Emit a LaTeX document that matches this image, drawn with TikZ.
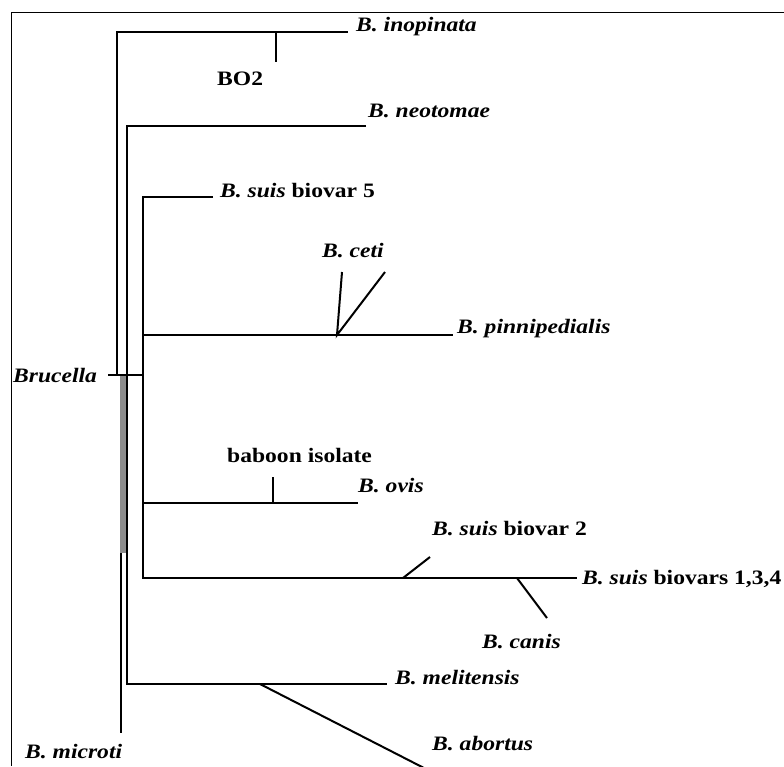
\documentclass[tikz,border=0pt]{standalone}
\usepackage{fontspec}
\setmainfont[FakeStretch=1.15]{Liberation Serif}
\usepackage{tikz}
\usetikzlibrary{calc}
\usetikzlibrary{positioning}
\definecolor{bargray}{RGB}{140, 140, 140}
\tikzset{
    branch/.style={line width=2pt},
    frameline/.style={line width=1.6pt},
    taxon/.style={anchor=base west, inner sep=0pt, font=\fontsize{20.5}{24}\selectfont\bfseries}
}

\begin{document}
\begin{tikzpicture}[x=1pt, y=-1pt]
    \useasboundingbox (0,0) rectangle (784,766);
    \draw[frameline] (784,12.5) -- (11.5,12.5) -- (11.5,766);
    % junctions and tips
    \coordinate (rootL)   at (108,375);   \coordinate (rootA)   at (117,375);   \coordinate (rootC)   at (143,375);
    \coordinate (inoTop)  at (117, 32);   \coordinate (inoEnd)  at (348, 32);
    \coordinate (bo2Top)  at (276, 32);   \coordinate (bo2End)  at (276, 62);
    \coordinate (neoTop)  at (127,126);   \coordinate (neoEnd)  at (366,126);   \coordinate (neoBot)  at (127,684);
    \coordinate (abStart) at (260,684);   \coordinate (abEnd)   at (424,768);   \coordinate (melEnd)  at (387,684);
    \coordinate (cTop)    at (143,197);   \coordinate (s5End)   at (213,197);   \coordinate (cBot)    at (143,578);
    \coordinate (pinJ)    at (143,335);   \coordinate (cetiJ)   at (337,335);   \coordinate (pinEnd)  at (453,335);
    \coordinate (cetiA)   at (342,272);   \coordinate (cetiB)   at (385,272);
    \coordinate (ovJ)     at (143,503);   \coordinate (babJ)    at (273,503);   \coordinate (babTop)  at (273,477);
    \coordinate (ovEnd)   at (358,503);
    \coordinate (s2J)     at (403,578);   \coordinate (s2End)   at (430,557);
    \coordinate (canJ)    at (517,578);   \coordinate (canEnd)  at (547,618);   \coordinate (s134End) at (577,578);
    \coordinate (micTop)  at (121,553);   \coordinate (micEnd)  at (121,733);
    % gray stem of B. microti
    \fill[bargray] (120,375) rectangle (127.5,553);
    % tree
    \draw[branch] (rootL) -- (rootC);
    \draw[branch] (rootA) -- (inoTop) -- (inoEnd);
    \draw[branch] (bo2Top) -- (bo2End);
    \draw[branch] (neoEnd) -- (neoTop) -- (neoBot) -- (melEnd);
    \draw[branch] (abStart) -- (abEnd);
    \draw[branch] (s5End) -- (cTop) -- (cBot) -- (s134End);
    \draw[branch] (pinJ) -- (pinEnd);
    \draw[branch] (cetiA) -- (cetiJ) -- (cetiB);
    \draw[branch] (ovJ) -- (ovEnd);
    \draw[branch] (babJ) -- (babTop);
    \draw[branch] (s2J) -- (s2End);
    \draw[branch] (canJ) -- (canEnd);
    \draw[branch] (micTop) -- (micEnd);
    % labels
    \node[taxon] (brucella)   at ( 13,382) {\textit{Brucella}};
    \node[taxon] (inopinata)  at (356, 31) {\textit{B. inopinata}};
    \node[taxon] (bo2)        at (217, 85) {BO2};
    \node[taxon] (neotomae)   at (368,117) {\textit{B. neotomae}};
    \node[taxon] (suisfive)   at (220,197) {\textit{B. suis} biovar 5};
    \node[taxon] (ceti)       at (322,257) {\textit{B. ceti}};
    \node[taxon] (pinnip)     at (457,333) {\textit{B. pinnipedialis}};
    \node[taxon] (baboon)     at (227,462) {baboon isolate};
    \node[taxon] (ovis)       at (358,492) {\textit{B. ovis}};
    \node[taxon] (suistwo)    at (432,535) {\textit{B. suis} biovar 2};
    \node[taxon] (suisother)  at (582,584) {\textit{B. suis} biovars 1,3,4};
    \node[taxon] (canis)      at (482,648) {\textit{B. canis}};
    \node[taxon] (melitensis) at (395,684) {\textit{B. melitensis}};
    \node[taxon] (abortus)    at (432,750) {\textit{B. abortus}};
    \node[taxon] (microti)    at ( 25,758) {\textit{B. microti}};
\end{tikzpicture}
\end{document}
